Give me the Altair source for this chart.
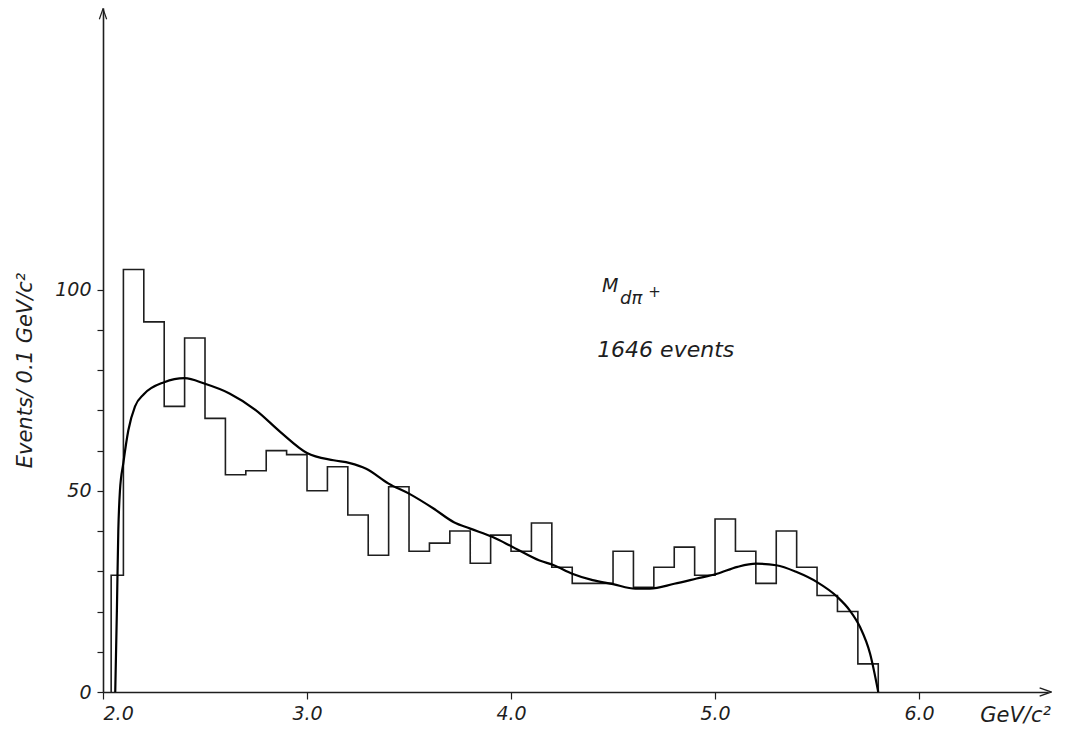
import altair as alt
import pandas as pd

# ---- data ----
bin_left = [2.04] + [round(2.1 + 0.1 * i, 2) for i in range(37)]
bin_right_end = 5.8
counts = [29, 105, 92, 71, 88, 68, 54, 55, 60, 59, 50, 56, 44, 34, 51, 35, 37, 40,
          32, 39, 35, 42, 31, 27, 27, 35, 26, 31, 36, 29, 43, 35, 27, 40, 31, 24, 20, 7]

curve_x = [2.06, 2.068, 2.075, 2.083, 2.1, 2.124, 2.157, 2.2, 2.3, 2.4, 2.5, 2.62, 2.75,
           2.87, 3.0, 3.13, 3.21, 3.29, 3.4, 3.5, 3.62, 3.72, 3.8, 3.91, 4.01, 4.14,
           4.21, 4.3, 4.4, 4.5, 4.61, 4.68, 4.8, 4.91, 5.01, 5.11, 5.2, 5.3, 5.4, 5.5,
           5.6, 5.66, 5.71, 5.76, 5.8]
curve_y = [0, 20, 40, 50, 57, 65, 71, 74, 77, 78, 76.6, 74.2, 70, 64.6, 59.4, 57.6,
           56.9, 55.5, 51.8, 49.3, 45.6, 42.2, 40.6, 38.5, 36, 32.7, 31.5, 29.4, 27.8,
           26.8, 25.7, 25.7, 26.9, 28.2, 29.4, 31.1, 31.9, 31.5, 29.8, 27.3, 23.6, 20.3,
           16.2, 9.5, 0]

x_ticks = [2.0, 3.0, 4.0, 5.0, 6.0]
y_ticks = list(range(0, 101, 10))
X_MAX = 6.632
Y_MAX = 170

FONT = "DejaVu Sans"
INK = "#1e1e1e"

# ---- step outline of histogram ----
sx = [bin_left[0]]
sy = [0]
for xl, c in zip(bin_left, counts):
    sx.append(xl)
    sy.append(c)
sx.append(bin_right_end)
sy.append(counts[-1])
sx.append(bin_right_end)
sy.append(0)
hist_df = pd.DataFrame({"x": sx, "y": sy, "o": list(range(len(sx)))})

curve_df = pd.DataFrame({"x": curve_x, "y": curve_y})

xs = alt.Scale(domain=[2.0, X_MAX], nice=False, zero=False)
ys = alt.Scale(domain=[0, Y_MAX], nice=False)

xaxis = alt.Axis(values=x_ticks, format=".1f", grid=False, tickSize=7, tickColor=INK,
                 domainColor=INK, domainWidth=1.6, tickWidth=1.2, labelFontSize=19,
                 labelFont=FONT, labelFontStyle="italic", labelColor=INK, labelPadding=5,
                 title=None)
yaxis = alt.Axis(values=y_ticks, grid=False, tickSize=6, tickColor=INK, domainColor=INK,
                 domainWidth=1.6, tickWidth=1.2, labelFontSize=19, labelFont=FONT,
                 labelFontStyle="italic", labelColor=INK, labelPadding=6,
                 labelExpr="datum.value % 50 == 0 ? datum.label : ''",
                 title="Events/ 0.1 GeV/c²", titleFont=FONT, titleFontSize=21,
                 titleFontStyle="italic", titleFontWeight="normal", titleColor=INK,
                 titleX=-78, titleY=362, titleBaseline="middle", titleAngle=-90)

hist = alt.Chart(hist_df).mark_line(interpolate="step-after", color=INK, strokeWidth=1.6).encode(
    x=alt.X("x:Q", scale=xs, axis=xaxis),
    y=alt.Y("y:Q", scale=ys, axis=yaxis),
    order="o:Q",
)

curve = alt.Chart(curve_df).mark_line(interpolate="monotone", color="#000", strokeWidth=2.2).encode(
    x=alt.X("x:Q", scale=xs),
    y=alt.Y("y:Q", scale=ys),
)

# axis arrow heads
arr_x_df = pd.DataFrame({"x": [X_MAX - 0.012], "y": [0]})
arr_x = alt.Chart(arr_x_df).mark_point(shape="M-1,-0.7L1,0L-1,0.7", filled=False, size=140,
                                       color=INK, strokeWidth=1.4, opacity=1).encode(
    x=alt.X("x:Q", scale=xs), y=alt.Y("y:Q", scale=ys))
arr_y_df = pd.DataFrame({"x": [2.0], "y": [Y_MAX - 1.5]})
arr_y = alt.Chart(arr_y_df).mark_point(shape="M-0.7,1L0,-1L0.7,1", filled=False, size=110,
                                       color=INK, strokeWidth=1.2, opacity=1).encode(
    x=alt.X("x:Q", scale=xs), y=alt.Y("y:Q", scale=ys))

# annotations
ann = pd.DataFrame({
    "x": [4.446, 4.534, 4.672, 4.422, 6.30],
    "y": [99.4, 96.4, 98.2, 83.3, -7.5],
    "t": ["M", "dπ", "+", "1646 events", "GeV/c²"],
    "s": [19, 18, 15, 22, 21],
})
texts = alt.Chart(ann).mark_text(align="left", baseline="alphabetic", font=FONT,
                                 fontStyle="italic", color=INK).encode(
    x=alt.X("x:Q", scale=xs), y=alt.Y("y:Q", scale=ys), text="t:N",
    size=alt.Size("s:Q", scale=None, legend=None))

chart = alt.layer(hist, curve, arr_x, arr_y, texts).properties(
    width=945, height=684,
    padding={"left": 95, "top": 0, "right": 4, "bottom": 42},
    autosize=alt.AutoSizeParams(type="none"),
    background="white",
).configure_view(stroke=None)

chart.save("out.html", embed_options={"renderer": "svg", "actions": False})
